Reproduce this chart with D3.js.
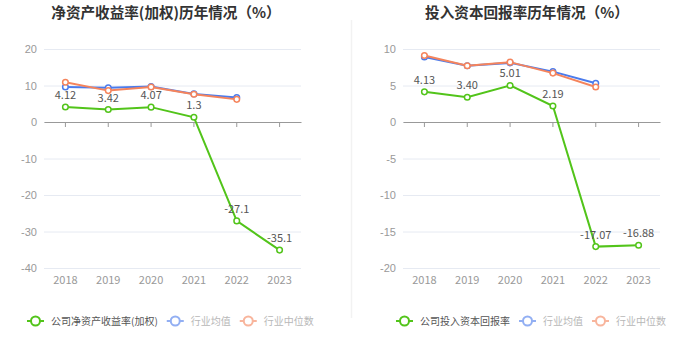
<!DOCTYPE html>
<html>
<head>
<meta charset="utf-8">
<script src="https://cdn.jsdelivr.net/npm/d3@7"></script>
<style>
  body { margin: 0; background: #fff; }
  svg { display: block; font-family: "Noto Sans CJK SC", "Noto Sans", sans-serif; }
</style>
</head>
<body>
<svg id="chart" width="700" height="360"></svg>
<script>
// data
var years = ["2018", "2019", "2020", "2021", "2022", "2023"];

var roeCompany = [4.12, 3.42, 4.07, 1.3, -27.1, -35.1];
var roeAvg = [9.6, 9.4, 9.7, 7.7, 6.7, null];
var roeMedian = [10.9, 8.6, 9.6, 7.6, 6.2, null];
var roeTicks = [20, 10, 0, -10, -20, -30, -40];

var roicCompany = [4.13, 3.40, 5.01, 2.19, -17.07, -16.88];
var roicAvg = [8.9, 7.7, 8.1, 6.9, 5.3, null];
var roicMedian = [9.1, 7.7, 8.2, 6.7, 4.8, null];
var roicTicks = [10, 5, 0, -5, -10, -15, -20];

var labelDigits = {roe: null, roic: 2};

var colors = {
    company: "#52c41a",
    avg: "#4b7bec",
    median: "#f5845c"
}

var svg = d3.select("#chart");

// divider between the two panels
svg.append("line")
    .attr("x1", 351.5).attr("x2", 351.5)
    .attr("y1", 20).attr("y2", 318)
    .attr("stroke", "#f2f2f2")
    .attr("stroke-width", 1.5);

function drawChart(opts){
    var g = svg.append("g");

    var x = d3.scaleBand().domain(years).range([opts.left, opts.left + 257]);
    var y = d3.scaleLinear()
        .domain([d3.min(opts.ticks), d3.max(opts.ticks)])
        .range([268, 49]);

    // title
    g.append("text")
        .attr("x", opts.titleX)
        .attr("y", 18)
        .attr("text-anchor", "middle")
        .attr("font-size", "14.6px")
        .attr("font-weight", "bold")
        .attr("fill", "#333")
        .text(opts.title);

    // gridlines
    var yAxis = d3.axisLeft(y).tickValues(opts.ticks)
        .tickSize(-257).tickPadding(7)
        .tickFormat(function(d){ return String(d) });
    var ya = g.append("g")
        .attr("transform", "translate(" + opts.left + ",0)")
        .call(yAxis);
    ya.select(".domain").remove();
    ya.selectAll(".tick line").attr("stroke", "#e6eaf2");
    ya.selectAll(".tick text")
        .attr("fill", "#999")
        .attr("font-size", "11px");

    // x axis at zero
    var xAxis = d3.axisBottom(x).tickSize(5).tickSizeOuter(0).tickFormat("");
    var xa = g.append("g")
        .attr("transform", "translate(0," + y(0) + ")")
        .call(xAxis);
    xa.select(".domain").attr("stroke", "#999");
    xa.selectAll(".tick line").attr("stroke", "#999");

    // category labels under the chart
    g.selectAll(".year")
        .data(years)
        .enter().append("text")
        .attr("x", function(d){ return x(d) + x.bandwidth() / 2 })
        .attr("y", 284)
        .attr("text-anchor", "middle")
        .attr("font-size", "11px")
        .attr("fill", "#999")
        .text(function(d){ return d });

    var line = d3.line()
        .defined(function(d){ return d.v != null })
        .x(function(d){ return x(d.year) + x.bandwidth() / 2 })
        .y(function(d){ return y(d.v) });

    opts.series.forEach(function(s){
        var pts = years.map(function(yr, i){ return {year: yr, v: s.values[i]} });
        g.append("path")
            .datum(pts)
            .attr("fill", "none")
            .attr("stroke", s.color)
            .attr("stroke-width", 2)
            .attr("d", line);
        g.selectAll(null)
            .data(pts.filter(function(d){ return d.v != null }))
            .enter().append("circle")
            .attr("cx", function(d){ return x(d.year) + x.bandwidth() / 2 })
            .attr("cy", function(d){ return y(d.v) })
            .attr("r", 2.8)
            .attr("fill", "#fff")
            .attr("stroke", s.color)
            .attr("stroke-width", 1.5);
        if(s.labels){
            g.selectAll(null)
                .data(pts)
                .enter().append("text")
                .attr("x", function(d){ return x(d.year) + x.bandwidth() / 2 })
                .attr("y", function(d){ return y(d.v) - 8 })
                .attr("text-anchor", "middle")
                .attr("font-size", "11px")
                .attr("fill", "#555")
                .text(function(d){ return opts.digits ? d.v.toFixed(opts.digits) : String(d.v) });
        }
    });

    // legend
    var lg = g.append("g").attr("transform", "translate(" + opts.legendX + ",321)");
    var lx = 0;
    opts.series.forEach(function(s){
        var item = lg.append("g")
            .attr("transform", "translate(" + lx + ",0)")
            .attr("opacity", s.labels ? 1 : 0.6);
        item.append("line")
            .attr("x1", 0).attr("x2", 17)
            .attr("stroke", s.color).attr("stroke-width", 2);
        item.append("circle")
            .attr("cx", 8.5).attr("r", 4.5)
            .attr("fill", "#fff").attr("stroke", s.color).attr("stroke-width", 2);
        var t = item.append("text")
            .attr("x", 24).attr("y", 3.5)
            .attr("font-size", "10px")
            .attr("fill", s.labels ? "#555" : "#888")
            .text(s.name);
        lx += 24 + t.node().getComputedTextLength() + 9;
    });
}

drawChart({
    title: "净资产收益率(加权)历年情况（%）",
    titleX: 166,
    left: 44,
    legendX: 27,
    ticks: roeTicks,
    digits: labelDigits.roe,
    series: [
        {name: "公司净资产收益率(加权)", values: roeCompany, color: colors.company, labels: true},
        {name: "行业均值", values: roeAvg, color: colors.avg},
        {name: "行业中位数", values: roeMedian, color: colors.median}
    ]
});

drawChart({
    title: "投入资本回报率历年情况（%）",
    titleX: 527,
    left: 403,
    legendX: 396,
    ticks: roicTicks,
    digits: labelDigits.roic,
    series: [
        {name: "公司投入资本回报率", values: roicCompany, color: colors.company, labels: true},
        {name: "行业均值", values: roicAvg, color: colors.avg},
        {name: "行业中位数", values: roicMedian, color: colors.median}
    ]
});
</script>
</body>
</html>
